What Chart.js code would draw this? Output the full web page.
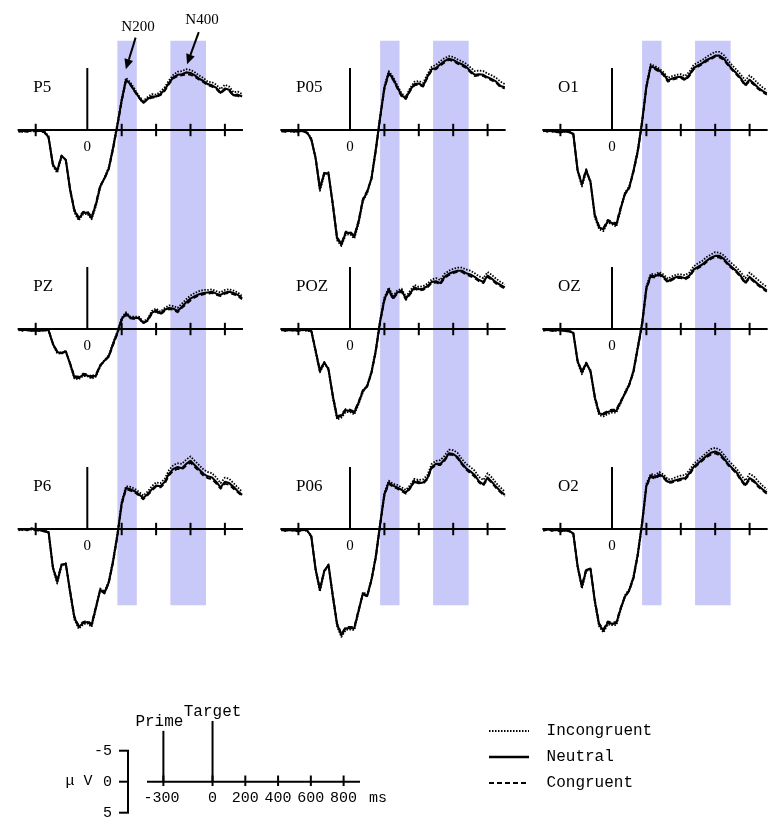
<!DOCTYPE html>
<html>
<head>
<meta charset="utf-8">
<title>ERP waveforms</title>
<script src="https://cdn.jsdelivr.net/npm/chart.js@4.4.1/dist/chart.umd.min.js"></script>
<style>
  html, body { margin: 0; padding: 0; background: #fff; overflow: hidden; }
  #figure { position: relative; width: 773px; height: 825px; }
  #figure canvas { position: absolute; }
</style>
</head>
<body>
<div id="figure">
  <canvas id="col0" width="262" height="660" style="left:0px;top:0px"></canvas>
  <canvas id="col1" width="262" height="660" style="left:262px;top:0px"></canvas>
  <canvas id="col2" width="249" height="660" style="left:524px;top:0px"></canvas>
  <canvas id="scalebar" width="773" height="165" style="left:0px;top:660px"></canvas>
  <canvas id="legend" width="200" height="110" style="left:479px;top:713px"></canvas>
</div>
<script>
// sample times in ms (target onset = 0, prime at -300)
const times = [-400,-375,-350,-325,-300,-275,-250,-225,-200,-175,-150,-125,-100,-75,-50,-25,0,25,50,75,100,125,150,175,200,225,250,275,300,325,350,375,400,425,450,475,500,525,550,575,600,625,650,675,700,725,750,775,800,825,850,875,900];

const conditions = ['Incongruent', 'Neutral', 'Congruent'];
// electrodes by column (top to bottom)
const electrodes = [['P5', 'PZ', 'P6'], ['P05', 'POZ', 'P06'], ['O1', 'OZ', 'O2']];

// amplitudes in µV (negative up)
const p5Incong  = [0.1,0.3,0.2,0.1,0.3,0,0.2,1.0,5.8,6.9,4.4,4.7,9.8,13.3,14.6,13.6,13.5,14.4,12.3,9.3,7.6,6.0,2.6,-1.1,-5.0,-8.4,-7.7,-6.6,-5.5,-4.7,-5.3,-5.8,-5.7,-6.2,-6.9,-8.0,-8.9,-9.4,-9.5,-9.8,-9.7,-9.3,-8.8,-8.4,-7.8,-7.7,-7.3,-6.6,-7.3,-7.0,-6.1,-6.2,-5.8];
const p5Neutral = [0.2,0.1,0.3,0,0.2,0.1,0.3,1.2,5.6,6.6,4.2,4.8,9.6,13.0,14.3,13.4,13.3,14.2,12.0,9.1,7.8,6.2,2.9,-0.8,-4.8,-8.1,-7.4,-6.3,-5.3,-4.4,-5.0,-5.4,-5.4,-5.8,-6.5,-7.6,-8.5,-8.9,-9.0,-9.3,-9.2,-8.8,-8.3,-7.9,-7.4,-7.2,-6.8,-6.0,-6.7,-6.5,-5.6,-5.7,-5.4];
const p5Cong    = [0.3,0.2,0.1,0.2,0.1,0.2,0.4,1.3,5.5,6.5,4.1,4.9,9.5,12.8,14.1,13.2,13.1,14.0,11.8,8.9,7.9,6.3,3.1,-0.6,-4.6,-7.9,-7.3,-6.2,-5.2,-4.3,-4.9,-5.2,-5.3,-5.6,-6.3,-7.4,-8.3,-8.7,-8.8,-9.0,-8.9,-8.6,-8.1,-7.7,-7.2,-7.0,-6.6,-5.9,-6.5,-6.3,-5.5,-5.5,-5.2];

const pzIncong  = [0.2,0.1,0.2,0.2,0.3,0.2,0.2,0.1,2.5,3.9,4.0,3.5,5.8,8.0,8.1,7.6,7.6,8.0,7.7,6.1,5.0,4.2,2.2,0.4,-1.8,-2.7,-2.0,-2.0,-2.0,-1.2,-1.6,-2.9,-3.3,-2.8,-3.4,-3.8,-3.7,-3.4,-4.1,-4.8,-5.4,-5.8,-6.1,-6.3,-6.3,-6.4,-6.1,-5.9,-6.3,-6.4,-6.2,-5.9,-5.3];
const pzNeutral = [0.1,0.2,0.1,0.3,0.2,0.3,0.1,0.2,2.4,3.7,3.9,3.6,5.6,7.8,7.9,7.4,7.5,7.8,7.5,5.9,5.1,4.4,2.4,0.6,-1.6,-2.5,-1.8,-1.8,-1.8,-1.0,-1.4,-2.6,-3.0,-2.5,-3.1,-3.4,-3.3,-2.9,-3.6,-4.3,-4.9,-5.3,-5.6,-5.8,-5.9,-6.0,-5.7,-5.5,-5.9,-6.0,-5.8,-5.5,-5.0];
const pzCong    = [0.0,0.3,0.2,0.2,0.1,0.3,0.2,0.3,2.3,3.6,3.8,3.7,5.5,7.6,7.7,7.2,7.3,7.6,7.3,5.8,5.2,4.5,2.6,0.8,-1.4,-2.3,-1.7,-1.6,-1.7,-0.9,-1.3,-2.4,-2.8,-2.3,-2.9,-3.2,-3.1,-2.7,-3.4,-4.0,-4.6,-5.1,-5.4,-5.6,-5.7,-5.8,-5.5,-5.3,-5.7,-5.8,-5.6,-5.3,-4.8];

const p6Incong  = [0.2,0.1,0.1,0.1,0.2,0.1,0.3,0.7,6.4,8.8,6.0,5.5,10.4,14.6,16.1,15.4,15.2,15.8,12.9,9.6,10.1,8.4,4.9,0.7,-4.4,-6.9,-6.8,-6.5,-6.0,-5.4,-6.0,-6.9,-7.5,-7.4,-8.1,-9.5,-10.3,-10.6,-10.5,-11.2,-11.7,-11.0,-10.3,-9.6,-9.2,-9.0,-8.3,-7.4,-8.3,-8.1,-7.4,-6.7,-6.0];
const p6Neutral = [0.1,0,0.2,-0.1,0.1,0.2,0.4,0.5,6.2,8.5,5.8,5.6,10.1,14.3,15.8,15.2,15.0,15.5,12.7,9.8,10.3,8.6,5.2,1.0,-4.1,-6.6,-6.4,-6.1,-5.6,-5.0,-5.6,-6.4,-7.0,-6.9,-7.6,-8.9,-9.7,-10.0,-9.8,-10.5,-11.0,-10.3,-9.6,-8.9,-8.5,-8.3,-7.6,-6.7,-7.6,-7.4,-6.8,-6.1,-5.5];
const p6Cong    = [0.0,0.2,0.1,0.0,0.2,0.3,0.3,0.4,6.1,8.3,5.7,5.7,9.9,14.1,15.6,15.0,14.8,15.3,12.5,9.9,10.4,8.7,5.4,1.2,-3.9,-6.4,-6.2,-5.9,-5.4,-4.8,-5.4,-6.2,-6.8,-6.7,-7.3,-8.6,-9.4,-9.7,-9.6,-10.2,-10.7,-10.0,-9.3,-8.6,-8.2,-8.0,-7.3,-6.5,-7.3,-7.1,-6.5,-5.9,-5.3];

const p05Incong  = [0.1,0.1,0.3,0.2,0.2,0.1,0.3,1.3,4.7,9.8,7.3,6.8,12.3,17.8,18.7,16.9,16.8,17.5,15.1,11.5,10.2,7.6,2.9,-2.3,-7.1,-9.5,-8.6,-7.2,-5.9,-5.4,-6.8,-7.8,-7.9,-7.6,-9.0,-10.2,-10.5,-11.1,-11.6,-11.9,-11.8,-11.4,-11.1,-10.7,-10.1,-9.5,-9.6,-9.5,-9.1,-8.8,-8.4,-7.8,-7.4];
const p05Neutral = [0,0.2,0.1,0.3,0.1,0.2,0.4,1.5,4.5,9.5,7.0,7.0,12.0,17.5,18.5,16.6,16.6,17.2,14.8,11.3,10.0,7.8,3.2,-2.0,-6.8,-9.2,-8.3,-6.9,-5.6,-5.1,-6.5,-7.4,-7.5,-7.1,-8.6,-9.8,-10.0,-10.6,-11.1,-11.5,-11.3,-10.9,-10.6,-10.2,-9.5,-8.9,-9.0,-8.9,-8.5,-8.2,-7.8,-7.1,-6.9];
const p05Cong    = [0.2,0.3,0,0.2,0.3,0.1,0.5,1.6,4.4,9.3,6.9,7.2,11.8,17.3,18.3,16.4,16.4,17.0,14.6,11.1,9.8,7.9,3.4,-1.8,-6.6,-9.0,-8.1,-6.7,-5.4,-5.0,-6.3,-7.2,-7.3,-7.0,-8.4,-9.6,-9.8,-10.4,-10.9,-11.3,-11.1,-10.7,-10.4,-10.0,-9.3,-8.7,-8.8,-8.7,-8.3,-8.0,-7.6,-6.9,-6.7];

const pozIncong  = [0.2,0.2,0.2,0.1,0.2,0.2,0.3,0.4,3.7,7.0,5.6,6.3,11.1,14.6,14.3,13.4,13.4,13.8,12.1,10.2,9.0,6.8,3.2,-1.5,-5.1,-6.7,-5.3,-6.2,-6.5,-5.2,-6.2,-7.1,-6.8,-6.9,-7.3,-8.0,-8.2,-7.9,-8.9,-9.4,-9.7,-9.9,-9.9,-9.6,-9.4,-9.0,-8.5,-8.2,-9.2,-8.7,-8.1,-7.6,-7.2];
const pozNeutral = [0.1,0.3,0.1,0.2,0.3,0.1,0.2,0.3,3.5,6.8,5.4,6.5,10.8,14.3,14.0,13.1,13.2,13.5,11.9,10.0,9.2,7.0,3.5,-1.2,-4.8,-6.4,-5.0,-5.9,-6.2,-4.9,-5.8,-6.7,-6.4,-6.5,-6.9,-7.6,-7.7,-7.4,-8.4,-8.9,-9.2,-9.4,-9.4,-9.0,-8.8,-8.4,-7.9,-7.6,-8.6,-8.1,-7.5,-7.1,-6.7];
const pozCong    = [0.0,0.3,0.2,0.3,0.2,0.1,0.1,0.2,3.4,6.6,5.3,6.6,10.6,14.1,13.8,12.9,13.0,13.3,11.7,9.8,9.3,7.1,3.7,-1.0,-4.6,-6.2,-4.8,-5.7,-6.0,-4.7,-5.6,-6.5,-6.2,-6.3,-6.7,-7.4,-7.5,-7.2,-8.2,-8.7,-9.0,-9.2,-9.2,-8.8,-8.5,-8.2,-7.7,-7.4,-8.4,-7.9,-7.3,-6.9,-6.5];

const p06Incong  = [0.2,0.2,0.2,0.1,0.3,0.2,0.3,1.0,6.7,10.1,7.0,5.7,11.1,15.7,17.4,16.3,16.2,16.3,13.4,10.2,10.6,8.0,4.2,-1.0,-5.9,-7.8,-7.3,-7.1,-6.7,-6.3,-7.1,-8.1,-7.9,-8.0,-8.7,-10.5,-11.0,-11.1,-11.8,-12.8,-12.7,-12.3,-11.3,-10.5,-10.0,-9.4,-8.4,-7.9,-9.0,-8.3,-7.4,-6.7,-6.0];
const p06Neutral = [0.1,0.3,0.1,0.2,0.4,0.1,0.2,1.2,6.5,9.8,6.8,5.8,10.8,15.4,17.1,16.0,16.0,16.0,13.2,10.4,10.8,8.2,4.5,-0.7,-5.6,-7.5,-7.0,-6.7,-6.3,-5.9,-6.7,-7.6,-7.4,-7.5,-8.2,-10.0,-10.5,-10.5,-11.2,-12.2,-12.1,-11.6,-10.6,-9.8,-9.3,-8.7,-7.7,-7.2,-8.3,-7.6,-6.8,-6.1,-5.5];
const p06Cong    = [0.0,0.3,0.2,0.3,0.3,0.0,0.2,1.3,6.4,9.6,6.7,5.9,10.6,15.2,16.9,15.8,15.8,15.8,13.0,10.5,10.9,8.3,4.7,-0.5,-5.4,-7.3,-6.8,-6.5,-6.1,-5.7,-6.5,-8.0,-7.6,-7.3,-8.0,-9.8,-10.3,-10.3,-11.0,-12.0,-11.9,-11.4,-10.4,-9.6,-9.0,-8.4,-7.5,-7.0,-8.1,-7.4,-6.6,-5.9,-5.3];

const o1Incong  = [0.2,0.1,0.3,0.2,0.3,0.3,0.2,0.8,6.7,9.1,6.8,8.2,14.1,16.0,16.3,14.9,15.2,15.6,12.9,10.1,9.1,6.4,3.1,-1.6,-7.3,-10.6,-10.3,-9.9,-9.3,-8.4,-8.7,-8.9,-9.0,-8.7,-9.4,-10.5,-10.9,-11.3,-11.8,-12.2,-12.6,-12.6,-12.1,-11.2,-10.4,-9.7,-8.9,-8.0,-8.8,-8.2,-7.5,-6.9,-6.4];
const o1Neutral = [0.1,0.2,0.1,0.3,0.4,0.2,0.3,0.6,6.5,8.8,6.5,8.4,13.8,15.7,16.0,14.7,15.0,15.3,12.7,10.3,9.3,6.6,3.4,-1.3,-7.0,-10.3,-10.0,-9.6,-9.0,-8.0,-8.3,-8.5,-8.6,-8.2,-8.9,-10.0,-10.4,-10.8,-11.3,-11.6,-12.0,-12.0,-11.5,-10.6,-9.8,-9.1,-8.3,-7.3,-8.1,-7.5,-6.8,-6.3,-5.9];
const o1Cong    = [0.0,0.3,0.2,0.2,0.3,0.1,0.4,0.5,6.4,8.6,6.3,8.5,13.6,15.5,15.8,14.5,14.8,15.1,12.5,10.4,9.4,6.8,3.6,-1.1,-6.8,-10.1,-9.8,-9.4,-8.8,-7.8,-8.1,-8.3,-8.4,-8.0,-8.7,-9.8,-10.2,-10.6,-11.1,-11.4,-11.8,-11.7,-11.3,-10.4,-9.6,-8.9,-8.1,-7.1,-7.9,-7.3,-6.6,-6.1,-5.7];

const ozIncong  = [0.1,0.2,0.2,0.3,0.2,0.2,0.3,0.7,5.4,7.3,5.7,6.6,11.3,13.9,14.1,13.7,13.5,13.5,12.0,10.2,8.8,6.6,2.7,-1.1,-6.9,-8.9,-8.8,-9.2,-8.8,-8.1,-8.5,-8.8,-8.8,-8.7,-9.1,-10.1,-10.6,-11.0,-11.6,-12.0,-12.4,-12.3,-11.9,-11.1,-10.5,-9.9,-9.1,-8.2,-9.1,-8.5,-7.9,-7.3,-6.8];
const ozNeutral = [0.2,0.1,0.3,0.2,0.1,0.3,0.4,0.6,5.2,7.0,5.5,6.8,11.0,13.6,13.8,13.4,13.2,13.2,11.8,10.4,9.0,6.8,3.0,-0.8,-6.6,-8.6,-8.5,-8.9,-8.4,-7.7,-8.1,-8.4,-8.4,-8.2,-8.6,-9.6,-10.0,-10.4,-11.0,-11.5,-11.8,-11.8,-11.3,-10.5,-9.9,-9.3,-8.5,-7.5,-8.4,-7.8,-7.2,-6.7,-6.2];
const ozCong    = [0.3,0.1,0.2,0.1,0.2,0.4,0.3,0.5,5.1,6.8,5.4,6.9,10.8,13.4,13.6,13.2,13.0,13.0,11.6,10.5,9.1,7.0,3.2,-0.6,-6.4,-8.4,-8.3,-8.7,-8.2,-7.5,-7.9,-8.2,-8.2,-8.0,-8.4,-9.4,-9.8,-10.2,-10.8,-11.3,-11.6,-11.5,-11.1,-10.3,-9.7,-9.1,-8.3,-7.3,-8.2,-7.6,-7.0,-6.5,-6.0];

const o2Incong  = [0.1,0.1,0.2,0.2,0.3,0.3,0.2,0.9,6.2,9.6,6.9,6.3,11.9,15.7,16.7,15.4,15.5,15.5,13.1,10.7,9.7,7.6,3.8,-1.2,-7.3,-8.9,-8.7,-9.2,-8.8,-8.0,-8.1,-8.4,-8.6,-8.7,-9.5,-10.5,-11.1,-11.7,-12.3,-12.9,-13.1,-12.8,-12.0,-11.1,-10.4,-9.7,-8.7,-7.8,-8.9,-8.5,-7.7,-7.0,-6.4];
const o2Neutral = [0.2,0,0.3,0.1,0.4,0.2,0.3,0.7,6.0,9.3,6.6,6.4,11.6,15.4,16.4,15.1,15.3,15.2,12.9,10.9,9.9,7.8,4.1,-0.9,-7.0,-8.6,-8.3,-8.8,-8.4,-7.6,-7.7,-7.9,-8.1,-8.2,-9.0,-10.0,-10.6,-11.2,-11.8,-12.3,-12.5,-12.2,-11.4,-10.5,-9.8,-9.1,-8.0,-7.1,-8.2,-7.8,-7.0,-6.4,-5.9];
const o2Cong    = [0.3,0.1,0.2,0.0,0.3,0.1,0.4,0.6,5.9,9.1,6.4,6.5,11.4,15.2,16.2,14.9,15.1,15.0,12.7,11.0,10.0,8.0,4.3,-0.7,-6.8,-8.4,-8.1,-8.6,-8.2,-7.4,-7.5,-7.7,-7.9,-8.0,-8.7,-9.8,-10.4,-11.0,-11.6,-12.0,-12.2,-11.9,-11.2,-10.3,-9.6,-8.9,-7.8,-6.9,-8.0,-7.6,-6.8,-6.2,-5.7];

// analysis windows (ms) shaded in blue
const windows = [[175, 288], [483, 690]];
// time-axis ticks in each panel
const panelTicks = [-300, 200, 400, 600, 800];
// scale bar ticks
const scaleTicks = [-300, 0, 200, 400, 600, 800];
const uvTicks = [-5, 0, 5];

const panelSeries = {
  P5: [p5Incong, p5Neutral, p5Cong],    PZ: [pzIncong, pzNeutral, pzCong],    P6: [p6Incong, p6Neutral, p6Cong],
  P05: [p05Incong, p05Neutral, p05Cong], POZ: [pozIncong, pozNeutral, pozCong], P06: [p06Incong, p06Neutral, p06Cong],
  O1: [o1Incong, o1Neutral, o1Cong],    OZ: [ozIncong, ozNeutral, ozCong],    O2: [o2Incong, o2Neutral, o2Cong]
};
Object.keys(panelSeries).forEach(k => panelSeries[k].forEach((s, i) => {
  if (s.length !== times.length) throw new Error(k + ' ' + conditions[i] + ' has ' + s.length + ' points');
}));

// ---- layout / style ----
const frame = {
  pxPerMs: 0.172, pxPerUv: 6.2,
  colLeft: [0, 262, 524], zeroX: [87.3, 350, 612],
  rowZeroY: [130, 329, 529]
};
const bandColor = '#c9c9f9';
const bandTopUv = -14.4;    // on the top row scale
const bandBottomUv = 12.3;  // on the bottom row scale
const axisSpan = [-405, 905];
const condStyle = {
  Incongruent: { dash: [1.5, 1.5], width: 1.8 },
  Neutral:     { dash: [],         width: 2.1 },
  Congruent:   { dash: [5, 3],     width: 1.8 }
};
const peakNotes = [
  { text: 'N200', label: [295, -16.6], tail: [281, -14.9], tip: [224, -9.8] },
  { text: 'N400', label: [667, -17.7], tail: [648, -15.8], tip: [580, -10.6] }
];
const eventMarkers = [
  { name: 'Prime', ms: -300, top: -8.2, dx: -4 },
  { name: 'Target', ms: 0, top: -9.8, dx: 0 }
];

function line(ctx, x1, y1, x2, y2) {
  ctx.beginPath(); ctx.moveTo(x1, y1); ctx.lineTo(x2, y2); ctx.stroke();
}

const panelPlugin = {
  id: 'erpPanel',
  beforeDatasetsDraw(chart, args, opts) {
    const ctx = chart.ctx, x = chart.scales.x;
    ctx.save();
    // shaded windows run through all three rows
    const top = chart.scales.y0.getPixelForValue(bandTopUv);
    const bottom = chart.scales.y2.getPixelForValue(bandBottomUv);
    ctx.fillStyle = bandColor;
    windows.forEach(([a, b]) => {
      const xa = x.getPixelForValue(a);
      ctx.fillRect(xa, top, x.getPixelForValue(b) - xa, bottom - top);
    });
    ctx.strokeStyle = '#000';
    ctx.fillStyle = '#000';
    ctx.lineWidth = 2;
    electrodes[opts.col].forEach((name, r) => {
      const y = chart.scales['y' + r];
      const y0 = y.getPixelForValue(0);
      const x0 = x.getPixelForValue(0);
      line(ctx, x.getPixelForValue(axisSpan[0]), y0, x.getPixelForValue(axisSpan[1]), y0);
      panelTicks.forEach(t => {
        const px = x.getPixelForValue(t);
        line(ctx, px, y.getPixelForValue(-1), px, y.getPixelForValue(1));
      });
      line(ctx, x0, y0, x0, y.getPixelForValue(-10));
      ctx.font = '15px "Liberation Serif"';
      ctx.textAlign = 'center';
      ctx.textBaseline = 'middle';
      ctx.fillText('0', x0, y0 + 17);
      ctx.font = '17px "Liberation Serif"';
      ctx.textAlign = 'left';
      ctx.fillText(name, x0 - 54, y0 - 42);
    });
    ctx.restore();
  },
  afterDatasetsDraw(chart, args, opts) {
    if (opts.col !== 0) return;
    const ctx = chart.ctx, x = chart.scales.x, y = chart.scales.y0;
    ctx.save();
    ctx.strokeStyle = '#000';
    ctx.fillStyle = '#000';
    ctx.lineWidth = 2;
    ctx.font = '15px "Liberation Serif"';
    ctx.textAlign = 'center';
    ctx.textBaseline = 'middle';
    peakNotes.forEach(n => {
      const tx = x.getPixelForValue(n.tail[0]), ty = y.getPixelForValue(n.tail[1]);
      const hx = x.getPixelForValue(n.tip[0]), hy = y.getPixelForValue(n.tip[1]);
      const ang = Math.atan2(hy - ty, hx - tx);
      const len = 10, half = 4.5;
      const bx = hx - len * Math.cos(ang), by = hy - len * Math.sin(ang);
      line(ctx, tx, ty, bx, by);
      ctx.beginPath();
      ctx.moveTo(hx, hy);
      ctx.lineTo(bx + half * Math.sin(ang), by - half * Math.cos(ang));
      ctx.lineTo(bx - half * Math.sin(ang), by + half * Math.cos(ang));
      ctx.closePath();
      ctx.fill();
      ctx.fillText(n.text, x.getPixelForValue(n.label[0]), y.getPixelForValue(n.label[1]));
    });
    ctx.restore();
  }
};

function buildColumn(col) {
  const canvas = document.getElementById('col' + col);
  const w = canvas.width, h = canvas.height;
  const zx = frame.zeroX[col] - frame.colLeft[col];
  const scales = {
    x: { type: 'linear', display: false, min: -zx / frame.pxPerMs, max: (w - zx) / frame.pxPerMs }
  };
  frame.rowZeroY.forEach((zy, r) => {
    scales['y' + r] = { type: 'linear', display: false, reverse: true, min: -zy / frame.pxPerUv, max: (h - zy) / frame.pxPerUv };
  });
  const datasets = [];
  electrodes[col].forEach((name, r) => {
    panelSeries[name].forEach((vals, k) => {
      const st = condStyle[conditions[k]];
      datasets.push({
        label: name + ' ' + conditions[k],
        data: times.map((t, i) => ({ x: t, y: vals[i] })),
        xAxisID: 'x', yAxisID: 'y' + r,
        borderColor: '#000', backgroundColor: '#000',
        borderWidth: st.width, borderDash: st.dash, borderJoinStyle: 'round',
        pointRadius: 0, fill: false, tension: 0
      });
    });
  });
  new Chart(canvas, {
    type: 'line',
    data: { datasets },
    options: {
      responsive: false, animation: false, events: [],
      layout: { padding: 0 },
      scales,
      plugins: { legend: { display: false }, tooltip: { enabled: false }, erpPanel: { col } }
    },
    plugins: [panelPlugin]
  });
}
[0, 1, 2].forEach(buildColumn);

// ---- scale bar (time and µV calibration) ----
const scalebarPlugin = {
  id: 'scalebar',
  afterDraw(chart) {
    const { ctx, chartArea } = chart;
    const x = chart.scales.x, y = chart.scales.y;
    const y0 = y.getPixelForValue(0);
    ctx.save();
    ctx.strokeStyle = '#000';
    ctx.fillStyle = '#000';
    ctx.lineWidth = 2;
    line(ctx, chartArea.left, y0, chartArea.right, y0);
    scaleTicks.forEach(t => {
      const px = x.getPixelForValue(t);
      line(ctx, px, y.getPixelForValue(-1), px, y.getPixelForValue(0.7));
    });
    ctx.font = '16px "Liberation Mono"';
    ctx.textAlign = 'center';
    ctx.textBaseline = 'bottom';
    eventMarkers.forEach(m => {
      const px = x.getPixelForValue(m.ms), pt = y.getPixelForValue(m.top);
      line(ctx, px, y0, px, pt);
      ctx.fillText(m.name, px + m.dx, pt - 1);
    });
    ctx.font = '15px "Liberation Mono"';
    ctx.textBaseline = 'middle';
    scaleTicks.forEach(t => ctx.fillText(String(t), x.getPixelForValue(t) - (t < 0 ? 2 : 0), y0 + 16));
    ctx.fillText('ms', chartArea.right + 18, y0 + 16);
    // µV bracket
    const bx = chartArea.left - 19;
    line(ctx, bx, y.getPixelForValue(uvTicks[0]), bx, y.getPixelForValue(uvTicks[uvTicks.length - 1]));
    ctx.textAlign = 'right';
    uvTicks.forEach(v => {
      const py = y.getPixelForValue(v);
      line(ctx, bx - 9, py, bx + 1, py);
      ctx.fillText(String(v), bx - 16, py);
    });
    ctx.textAlign = 'center';
    ctx.fillText('μ V', bx - 49, y0 - 1);
    ctx.restore();
  }
};
(function () {
  const canvas = document.getElementById('scalebar');
  const zeroY = 121.7;
  new Chart(canvas, {
    type: 'line',
    data: { datasets: [] },
    options: {
      responsive: false, animation: false, events: [],
      layout: { padding: { left: 147, right: 413, top: 0, bottom: 0 } },
      scales: {
        x: { type: 'linear', display: false, min: -400, max: 900 },
        y: { type: 'linear', display: false, reverse: true, min: -zeroY / frame.pxPerUv, max: (canvas.height - zeroY) / frame.pxPerUv }
      },
      plugins: { legend: { display: false }, tooltip: { enabled: false } }
    },
    plugins: [scalebarPlugin]
  });
})();

// ---- legend ----
new Chart(document.getElementById('legend'), {
  type: 'line',
  data: {
    datasets: conditions.map(c => ({
      label: c, data: [], borderColor: '#000', backgroundColor: '#000',
      borderWidth: condStyle[c].width + 0.3, borderDash: condStyle[c].dash
    }))
  },
  options: {
    responsive: false, animation: false, events: [],
    scales: { x: { display: false }, y: { display: false } },
    plugins: {
      tooltip: { enabled: false },
      legend: {
        display: true, position: 'top', align: 'start', maxHeight: 110,
        labels: {
          usePointStyle: true, pointStyle: 'line', pointStyleWidth: 40, boxHeight: 2,
          padding: 10, color: '#000', font: { family: 'Liberation Mono', size: 16 },
          generateLabels: chart => chart.data.datasets.map((ds, i) => ({
            text: ' ' + ds.label, datasetIndex: i, hidden: false,
            fillStyle: 'rgba(0,0,0,0)', strokeStyle: '#000', fontColor: '#000',
            lineWidth: ds.borderWidth, lineDash: ds.borderDash, lineCap: 'butt', pointStyle: 'line'
          }))
        }
      }
    }
  }
});
</script>
</body>
</html>
